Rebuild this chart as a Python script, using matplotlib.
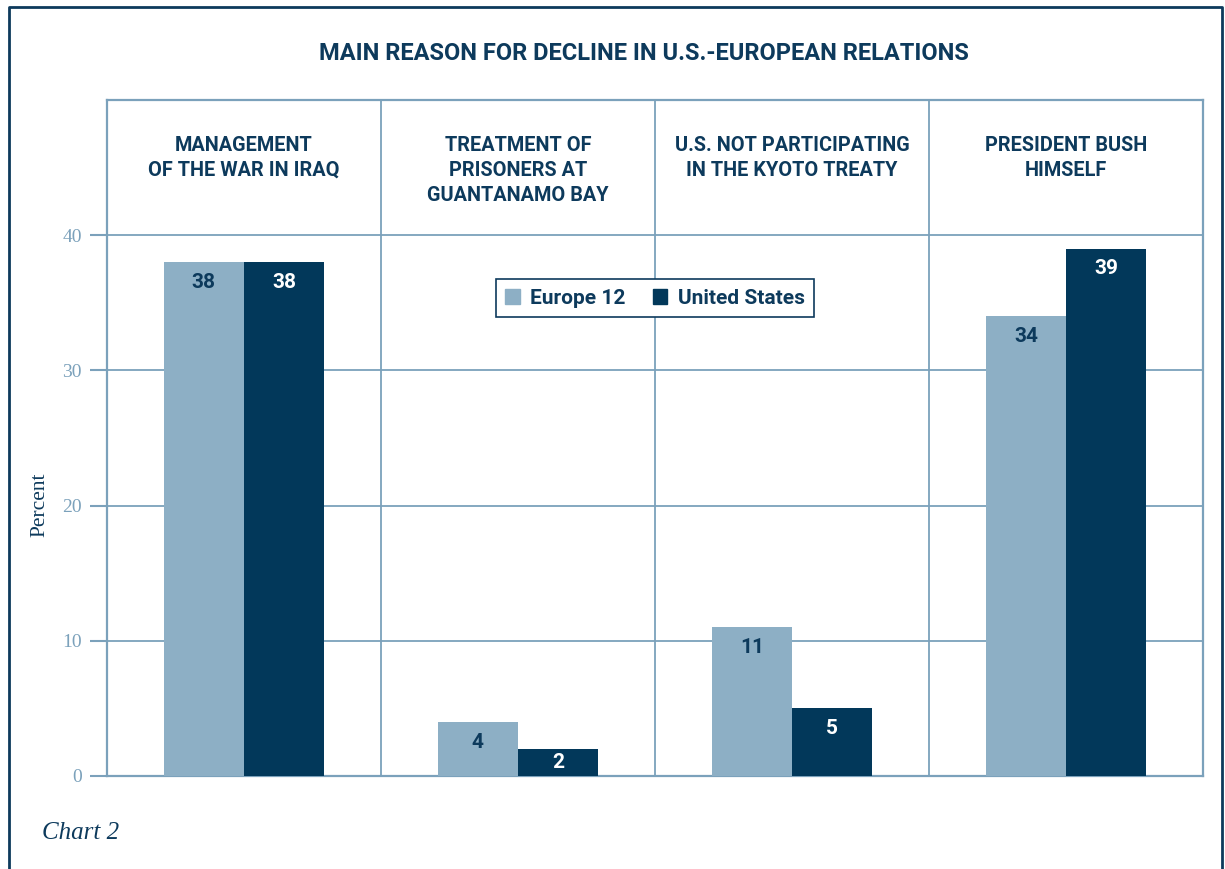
import matplotlib.pyplot as plt
from matplotlib.lines import Line2D
from matplotlib.patches import Patch
import numpy as np

categories = ['MANAGEMENT\nOF THE WAR IN IRAQ',
              'TREATMENT OF\nPRISONERS AT\nGUANTANAMO BAY',
              'U.S. NOT PARTICIPATING\nIN THE KYOTO TREATY',
              'PRESIDENT BUSH\nHIMSELF']
europe = [38, 4, 11, 34]
usa = [38, 2, 5, 39]
yticks = [0, 10, 20, 30, 40]

c_eu = '#8dafc5'
c_us = '#02385a'
c_grid = '#7ba1bb'
c_text = '#0d3a5c'
sans = ['Roboto', 'DejaVu Sans']
serif = ['Liberation Serif', 'DejaVu Serif']

fig = plt.figure(figsize=(12.25, 8.69), dpi=100)
ax = fig.add_axes([107/1225, 1-776/869, 1096/1225, 676/869])

x = np.arange(len(categories))
w = 0.293
ax.bar(x - w/2, europe, w, color=c_eu, zorder=3, label='Europe 12')
ax.bar(x + w/2, usa, w, color=c_us, zorder=3, label='United States')

for i in range(len(x)):
    for v, dx, col in [(europe[i], -w/2, c_text), (usa[i], w/2, 'white')]:
        ax.text(x[i] + dx, max(v - 1.5, v / 2), str(v), ha='center', va='center',
                fontsize=15, fontweight='bold', color=col, family=sans, zorder=4)
    ax.text(x[i], 47.35, categories[i], ha='center', va='top', fontsize=14.3,
            fontweight='bold', color=c_text, family=sans, linespacing=1.4)

ax.set_xlim(-0.5, 3.5)
ax.set_ylim(0, 50)
ax.set_yticks(yticks)
ax.set_xticks([])
ax.set_yticklabels([str(t) for t in yticks], family=serif, fontsize=14, color=c_grid)
ax.tick_params(axis='y', length=12, width=1.5, color=c_grid, pad=6)
for t in yticks:
    ax.axhline(t, color=c_grid, lw=1.3, zorder=1)
for s in [0.5, 1.5, 2.5]:
    ax.axvline(s, color=c_grid, lw=1.3, zorder=1)
for sp in ax.spines.values():
    sp.set_color(c_grid)
    sp.set_linewidth(1.6)

fig.text(40/1225, 1-505/869, 'Percent', rotation=90, ha='center', va='center',
         family=serif, fontsize=15.5, color=c_text)

handles = [Patch(color=c_eu, label='Europe 12'), Patch(color=c_us, label='United States')]
leg = ax.legend(handles=handles, loc='center', bbox_to_anchor=(0.5, 0.707), ncol=2,
                prop={'family': sans, 'weight': 'bold', 'size': 15}, fancybox=False,
                framealpha=1, edgecolor=c_text, handlelength=0.7, handleheight=0.7,
                handletextpad=0.5, columnspacing=1.3, borderpad=0.45)
for txt in leg.get_texts():
    txt.set_color(c_text)
leg.get_frame().set_linewidth(1.2)
leg.set_zorder(5)

fig.text(644/1225, 1-53/869, 'MAIN REASON FOR DECLINE IN U.S.-EUROPEAN RELATIONS',
         ha='center', va='center', fontsize=17, fontweight='bold', color=c_text, family=sans)
fig.text(42/1225, 1-833/869, 'Chart 2', ha='left', va='center', fontsize=18,
         style='italic', family=serif, color=c_text)

# outer frame (open at the bottom)
bx = [9/1225, 9/1225, 1222/1225, 1222/1225]
by = [0, 1-7/869, 1-7/869, 0]
fig.add_artist(Line2D(bx, by, transform=fig.transFigure, color=c_text, lw=2))

fig.savefig('out.png', dpi=100)
